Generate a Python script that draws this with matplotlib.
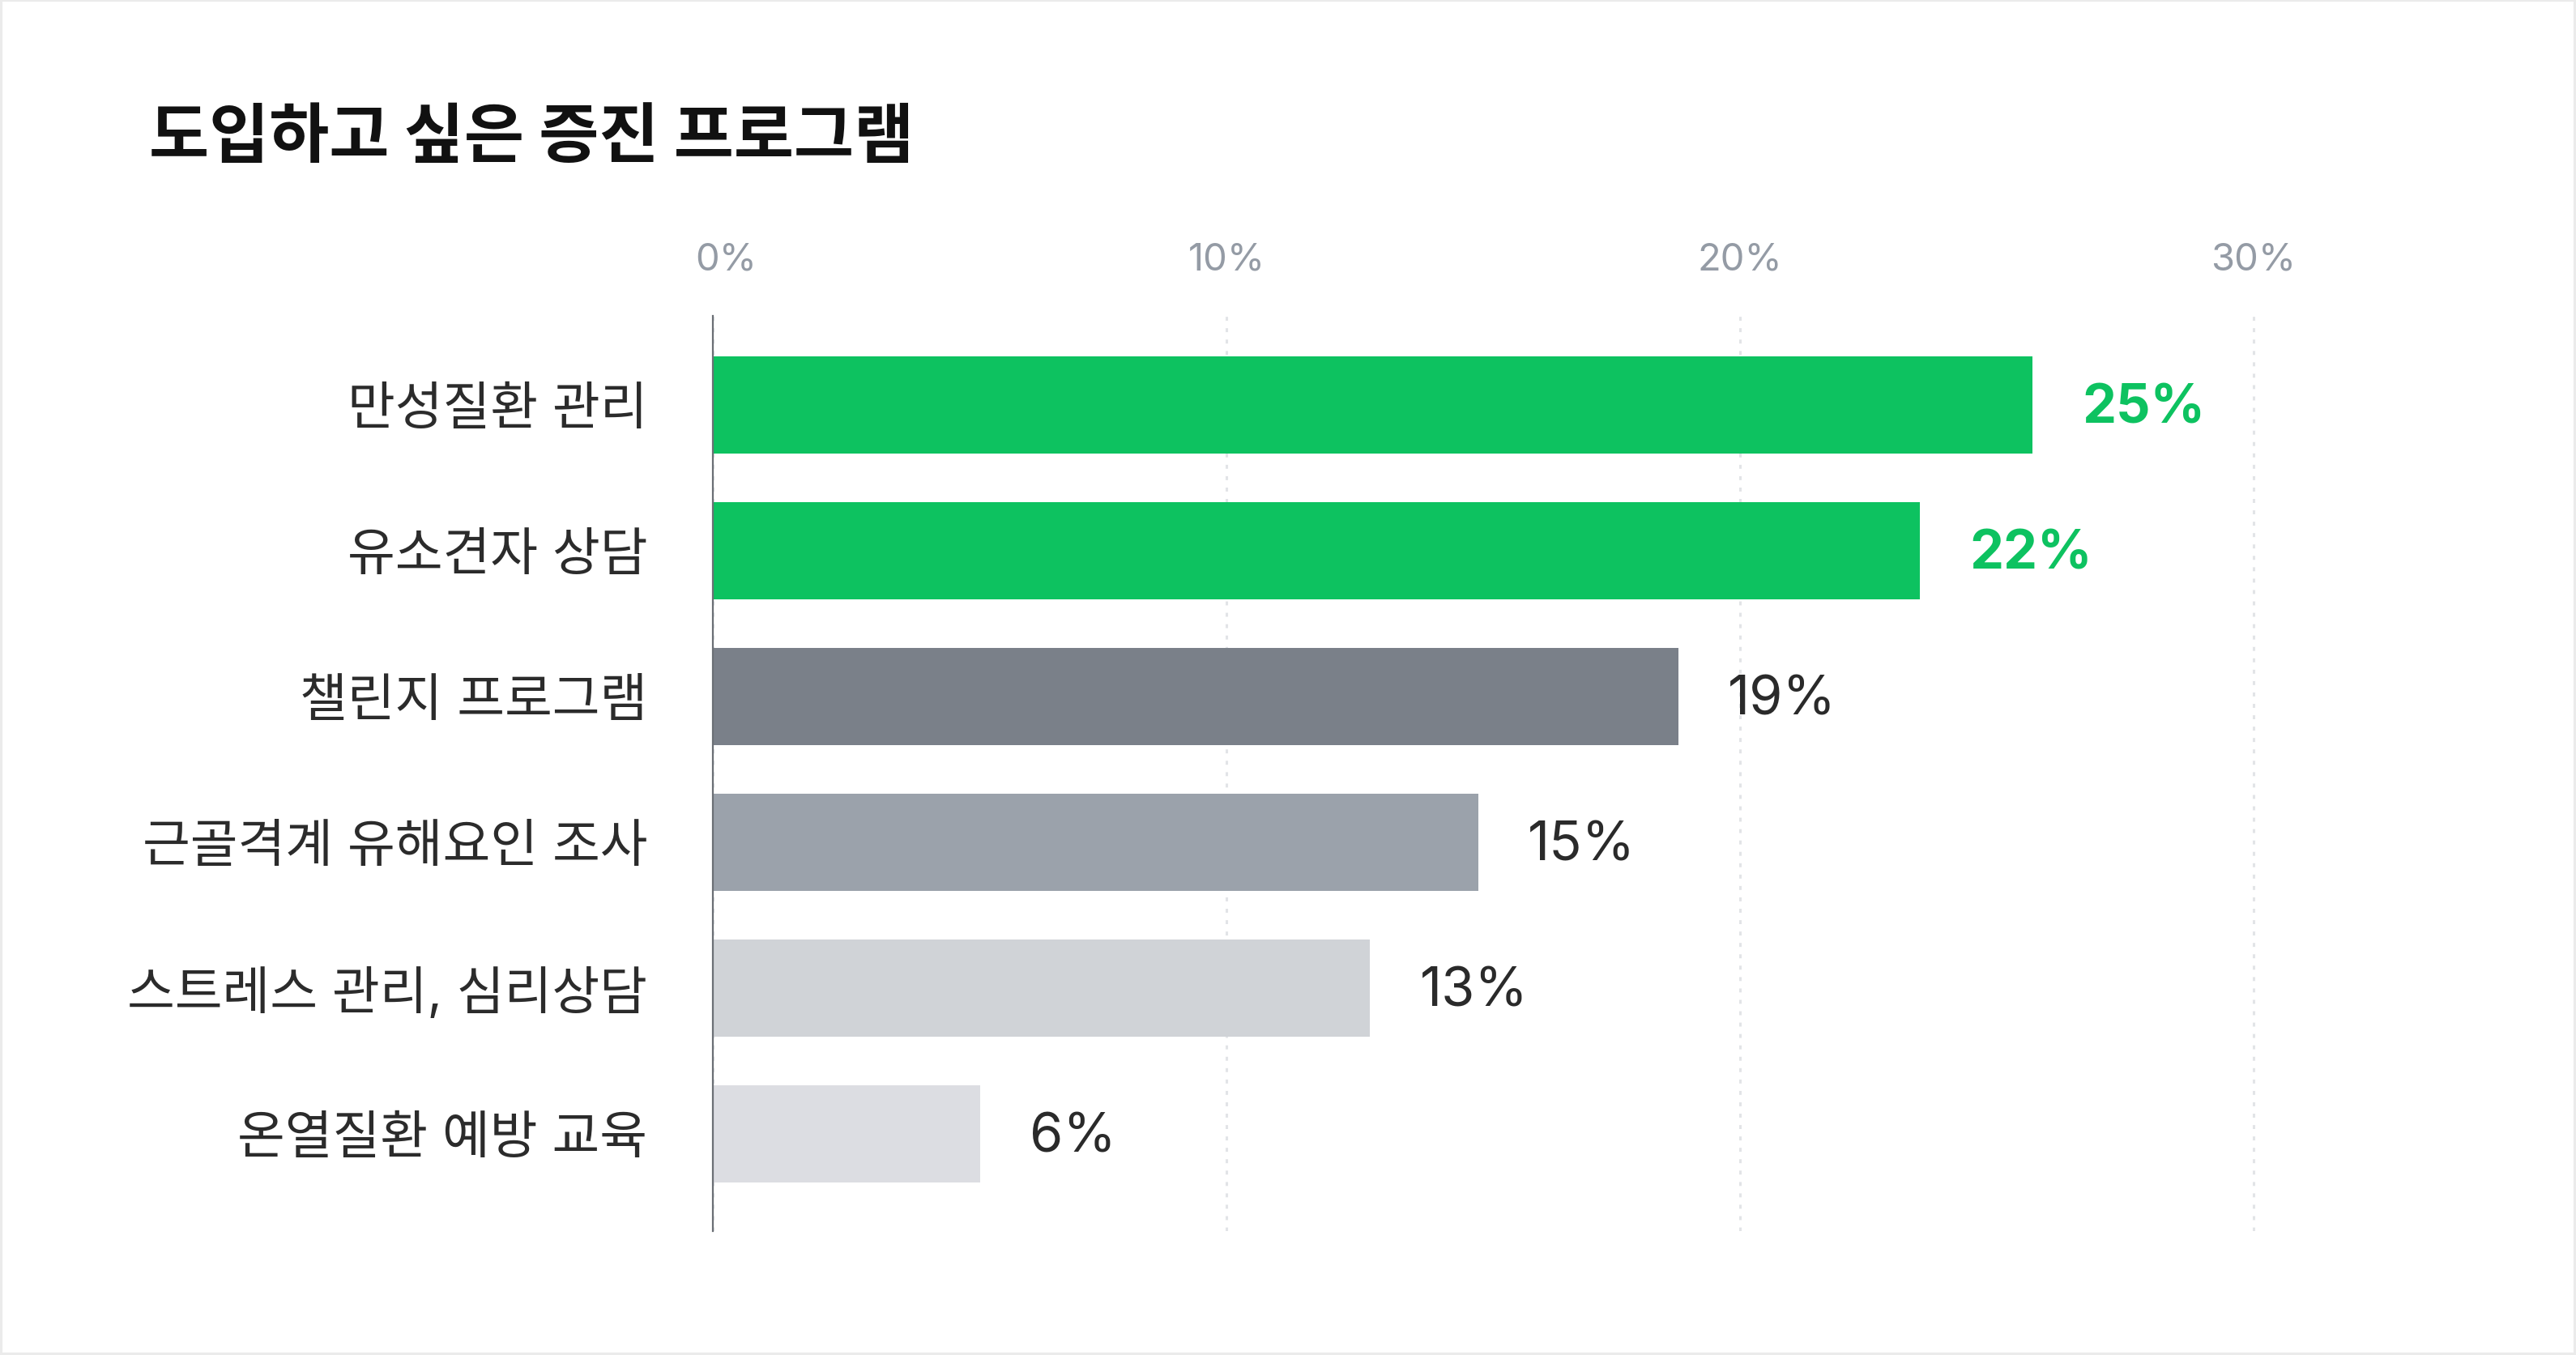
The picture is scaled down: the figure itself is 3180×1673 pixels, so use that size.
import matplotlib.pyplot as plt
import matplotlib.transforms as mtransforms
from matplotlib.patches import Rectangle

plt.rcParams['font.family'] = ['Inter', 'Noto Sans CJK KR', 'DejaVu Sans']

# data
programs = ["만성질환 관리", "유소견자 상담", "챌린지 프로그램",
            "근골격계 유해요인 조사", "스트레스 관리, 심리상담", "온열질환 예방 교육"]
bar_values = [25.7, 23.5, 18.8, 14.9, 12.8, 5.2]
value_labels = ["25%", "22%", "19%", "15%", "13%", "6%"]
bar_colors = ["#0dc260", "#0dc260", "#7a8089", "#9ba2ab", "#d0d3d7", "#dcdde2"]
tick_values = [0, 10, 20, 30]
tick_labels = ["0%", "10%", "20%", "30%"]
title = "도입하고 싶은 증진 프로그램"

fig = plt.figure(figsize=(15.9, 8.37), dpi=200)
fig.patch.set_facecolor("white")
fig.patches.append(Rectangle((0, 0), 1, 1, transform=fig.transFigure,
                             fill=False, edgecolor="#ebebeb", linewidth=2.2))

ax = fig.add_axes([0.2767, 0.0914, 0.638, 0.675])
ypos = list(range(len(programs)))
ax.barh(ypos, bar_values, height=0.667, color=bar_colors, zorder=3)

ax.set_xlim(0, 32)
ax.set_ylim(len(programs) - 1 + 0.667, -0.611)

ax.set_xticks(tick_values)
ax.set_xticklabels(tick_labels)
ax.xaxis.tick_top()
ax.tick_params(axis="x", length=0, pad=17, labelsize=17, labelcolor="#949ba5")
ax.set_yticks(ypos)
ax.set_yticklabels(programs)
ax.tick_params(axis="y", length=0, pad=29, labelsize=23, labelcolor="#2b2b2b")

# the "0%" label sits a little right of the axis line
first = ax.get_xticklabels()[0]
first.set_transform(first.get_transform() +
                    mtransforms.ScaledTranslation(6 / 72, 0, fig.dpi_scale_trans))

ax.grid(axis="x", color="#e2e4e7", linestyle=(0, (1.6, 3)), linewidth=1.1, zorder=0)
for s in ["top", "right", "bottom"]:
    ax.spines[s].set_visible(False)
ax.spines["left"].set_color("#6b6f75")
ax.spines["left"].set_linewidth(0.8)
ax.spines["left"].set_zorder(4)

for i, (v, lab) in enumerate(zip(bar_values, value_labels)):
    if i < 2:
        col, wt = "#0dc260", "bold"
    else:
        col, wt = "#2a2a2a", "normal"
    ax.annotate(lab, (v, i), xytext=(22, -1.5), textcoords="offset points",
                va="center", ha="left", fontsize=24, color=col, fontweight=wt)

fig.text(0.0579, 0.8984, title, fontsize=29, fontweight="bold",
         family=["Noto Sans CJK KR"], color="#111111", va="center", ha="left")

plt.savefig("out.png", dpi=200, facecolor=fig.get_facecolor())
